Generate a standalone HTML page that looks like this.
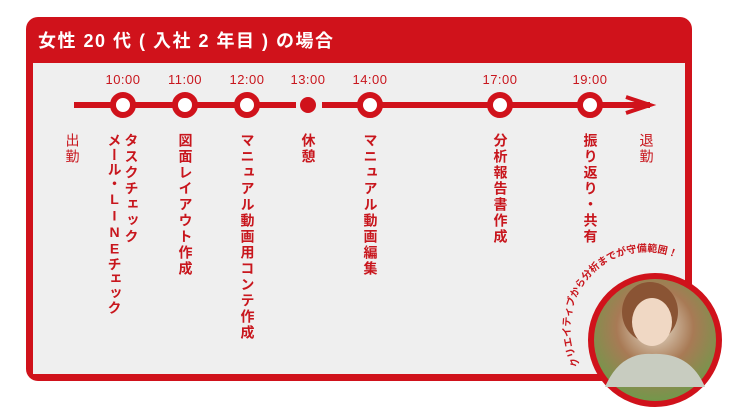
<!DOCTYPE html>
<html><head><meta charset="utf-8"><style>
body{margin:0;width:731px;height:419px;background:#fff;position:relative;overflow:hidden;font-family:"Liberation Sans","Noto Sans CJK JP",sans-serif}
.frame{position:absolute;left:26px;top:17px;width:666px;height:364px;background:#d0121b;border-radius:12px}
.panel{position:absolute;left:33px;top:63px;width:652px;height:311px;background:#efefef}
.title{position:absolute;left:38px;top:27px;color:#fff;font-weight:bold;font-size:18px;letter-spacing:1.5px}
.t{position:absolute;top:72px;color:#c8161d;font-size:13px;letter-spacing:0.5px;transform:translateX(-50%)}
.v{position:absolute;top:133px;color:#c8161d;font-weight:bold;font-size:14px;writing-mode:vertical-rl;text-orientation:upright;letter-spacing:2px;line-height:17px;transform:translateX(-50%)}
</style></head><body>
<div class="frame"></div><div class="panel"></div>
<div class="title">女性 20 代 ( 入社 2 年目 ) の場合</div>
<div class="t" style="left:123px">10:00</div>
<div class="t" style="left:185px">11:00</div>
<div class="t" style="left:247px">12:00</div>
<div class="t" style="left:308px">13:00</div>
<div class="t" style="left:370px">14:00</div>
<div class="t" style="left:500px">17:00</div>
<div class="t" style="left:590px">19:00</div>
<svg style="position:absolute;left:0;top:0" width="731" height="419">
<line x1="74" y1="105" x2="296" y2="105" stroke="#d0121b" stroke-width="6"/>
<line x1="322" y1="105" x2="650" y2="105" stroke="#d0121b" stroke-width="6"/>
<polyline points="626,97 650,105 626,113" fill="none" stroke="#d0121b" stroke-width="4"/>
<g fill="#fff" stroke="#d0121b" stroke-width="6">
<circle cx="123" cy="105" r="10"/><circle cx="185" cy="105" r="10"/><circle cx="247" cy="105" r="10"/>
<circle cx="370" cy="105" r="10"/><circle cx="500" cy="105" r="10"/><circle cx="590" cy="105" r="10"/></g>
<circle cx="308" cy="105" r="8" fill="#d0121b"/>
<defs><radialGradient id="g" cx="0.5" cy="0.4" r="0.6"><stop offset="0" stop-color="#e8e0d0"/><stop offset="0.5" stop-color="#a87a55"/><stop offset="1" stop-color="#6e9a4a"/></radialGradient>
<path id="arc" d="M580,365 A74,74 0 0 1 712,290"/></defs>
<circle cx="655" cy="340" r="64" fill="url(#g)" stroke="#d0121b" stroke-width="6"/>
<ellipse cx="650" cy="312" rx="28" ry="30" fill="#8a5434"/>
<ellipse cx="652" cy="322" rx="20" ry="24" fill="#f0d8c4"/>
<path d="M605,387 Q620,352 652,354 Q690,352 705,387 Z" fill="#c8ccc0"/>
<text font-size="10" font-weight="bold" fill="#c8161d" font-family="Liberation Sans,Noto Sans CJK JP,sans-serif"><textPath href="#arc">クリエイティブから分析までが守備範囲！</textPath></text>
</svg>
<div class="v" style="left:72px;font-weight:normal">出勤</div>
<div class="v" style="left:131px">タスクチェック</div>
<div class="v" style="left:114px;letter-spacing:0.5px">メール・LINEチェック</div>
<div class="v" style="left:185px">図面レイアウト作成</div>
<div class="v" style="left:247px">マニュアル動画用コンテ作成</div>
<div class="v" style="left:308px">休憩</div>
<div class="v" style="left:370px">マニュアル動画編集</div>
<div class="v" style="left:500px">分析報告書作成</div>
<div class="v" style="left:590px">振り返り・共有</div>
<div class="v" style="left:646px;font-weight:normal">退勤</div>
</body></html>
